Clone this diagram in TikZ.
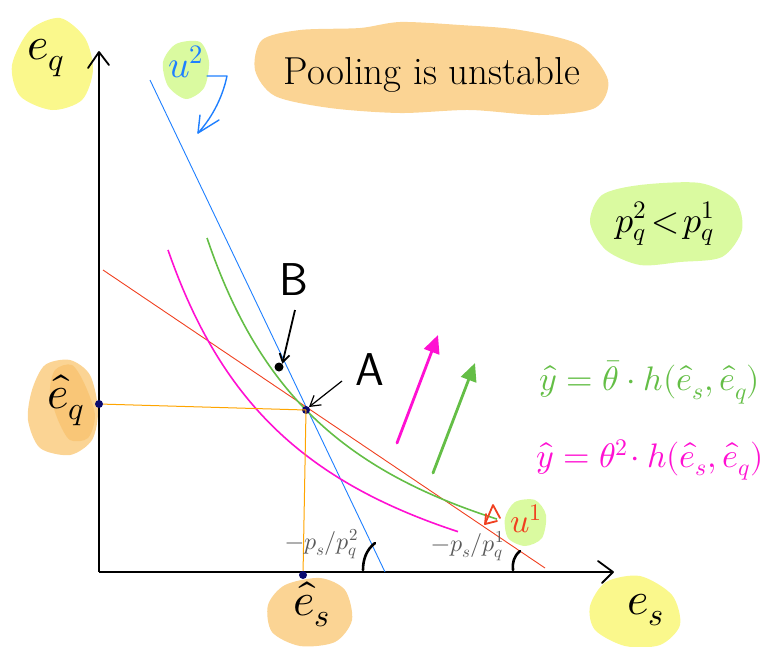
\documentclass[tikz,border=0pt]{standalone}
\usepackage{unicode-math}
\setmathfont{Latin Modern Math}
\usetikzlibrary{arrows.meta}
\definecolor{blobyellow}{RGB}{250,248,140}
\definecolor{bloborange}{RGB}{251,212,148}
\definecolor{bloborangedark}{RGB}{248,190,100}
\definecolor{blobgreen}{RGB}{218,250,160}
\definecolor{lineblue}{RGB}{30,127,255}
\definecolor{linered}{RGB}{240,64,32}
\definecolor{linegreen}{RGB}{100,190,70}
\definecolor{linemagenta}{RGB}{255,16,210}
\definecolor{lineorange}{RGB}{255,165,0}
\definecolor{dotblue}{RGB}{10,10,110}
\definecolor{labelgray}{RGB}{90,90,90}
\tikzset{
  axis/.style={line width=1.2pt, black},
  chev/.style={line width=1.8pt, black, line cap=round, line join=round},
  big/.style={font=\fontsize{46}{50}\selectfont},
  mid/.style={font=\fontsize{34}{38}\selectfont},
  small/.style={font=\fontsize{24}{26}\selectfont, text=labelgray},
  dotpt/.style={circle, fill=dotblue, inner sep=0pt, minimum size=8pt},
  thin/.style={line width=0.9pt},
  fatarrow/.style={line width=2.8pt, line cap=round},
}
\begin{document}
\begin{tikzpicture}[x=1pt,y=-1pt]
\useasboundingbox (0,0) rectangle (766,646);
% blobs
\fill[blobyellow] plot[smooth cycle] coordinates {(30,30) (60,18) (85,38) (93,70) (82,100) (52,110) (20,96) (12,65)};
\fill[blobgreen] plot[smooth cycle] coordinates {(176,44) (200,42) (209,62) (204,88) (186,99) (168,86) (163,62)};
\fill[bloborange] plot[smooth cycle] coordinates {(262,40) (300,30) (360,28) (400,22) (460,25) (520,30) (580,45) (608,80) (595,108) (540,115) (470,110) (400,113) (330,108) (275,96) (255,70)};
\fill[blobgreen] plot[smooth cycle] coordinates {(602,195) (640,185) (700,183) (735,200) (742,230) (722,257) (680,262) (640,265) (606,250) (590,222)};
\fill[bloborange] plot[smooth cycle] coordinates {(45,365) (70,360) (90,375) (98,410) (92,440) (70,455) (40,448) (28,420) (32,390)};
\fill[bloborangedark, opacity=0.6] plot[smooth cycle] coordinates {(55,370) (72,365) (85,385) (95,415) (88,438) (70,440) (58,420) (50,392)};
\fill[bloborange] plot[smooth cycle] coordinates {(285,585) (320,578) (345,590) (352,620) (335,642) (300,646) (272,632) (268,605)};
\fill[blobyellow] plot[smooth cycle] coordinates {(606,582) (640,576) (672,595) (680,625) (660,645) (625,646) (595,630) (590,606)};
\fill[blobgreen] plot[smooth cycle] coordinates {(515,502) (535,500) (546,515) (542,538) (525,546) (508,538) (505,518)};
% axes
\coordinate (O) at (99,572);
\coordinate (ytip) at (99,52);
\coordinate (xtip) at (613,572);
\draw[axis] (O) -- (ytip);
\draw[axis] (O) -- (xtip);
\draw[chev] (88,68) -- (ytip) -- (109,65);
\draw[chev] (598,561) -- (xtip) -- (602,583);
% budget lines
\coordinate (b1) at (150,80); \coordinate (b2) at (385,572);
\draw[lineblue, thin] (b1) -- (b2);
\coordinate (r1) at (103,270); \coordinate (r2) at (545,568);
\draw[linered, thin] (r1) -- (r2);
% iso-profit curves
\draw[linegreen, line width=1.6pt] plot[domain=207:497, samples=80, variable=\x] ({\x},{656.7-594.56/((\x-65)/100)});
\draw[linemagenta, line width=1.6pt] plot[domain=168:458, samples=80, variable=\x] ({\x},{675.4-629.6/((\x-20)/100)});
% A point and orange guides
\node[dotpt] (A) at (306,410) {};
\node[dotpt] (eqd) at (99,404) {};
\node[dotpt] (esd) at (303,575) {};
\draw[lineorange, line width=1pt] (eqd) -- (A.center);
\draw[lineorange, line width=1pt] (A.center) -- (esd);
\node[circle, fill=black, inner sep=0pt, minimum size=9pt] (B) at (279,367) {};
% labels
\node[big] (eqlab) at (46,58) {$e_q$};
\node[font=\fontsize{38}{40}\selectfont, text=lineblue] (u2) at (186,62) {$u^2$};
\coordinate (u2s) at (207,76);
\coordinate (u2e) at (198,133);
\draw[lineblue, line width=1.4pt, line cap=round, line join=round] (u2s) -- (227,76) .. controls (222,100) and (210,120) .. (u2e);
\draw[lineblue, line width=1.4pt, line cap=round, line join=round] (200,115) -- (u2e) -- (219,120);
\node[font=\fontsize{39}{42}\selectfont] (title) at (432,75) {Pooling is unstable};
\node[font=\fontsize{36}{40}\selectfont] (pq) at (665,224) {$p_q^2\!<\!p_q^1$};
\node[mid, text=linegreen] (eqg) at (650,382) {$\hat{y}=\bar{\theta}\cdot h(\hat{e}_s,\hat{e}_q)$};
\node[mid, text=linemagenta] (eqm) at (650,460) {$\hat{y}=\theta^2\!\cdot h(\hat{e}_s,\hat{e}_q)$};
\node[big] (Blab) at (294,280) {$\mathsf{B}$};
\node[big] (Alab) at (370,370) {$\mathsf{A}$};
\draw[black, line width=1.8pt, -{Straight Barb[length=8pt,width=10pt]}] (295,310) -- (B.north east);
\draw[black, line width=1.2pt, -{Straight Barb[length=10pt,width=12pt]}] (342,381) -- (A.north east);
\node[big] (hatq) at (66,400) {$\hat{e}_q$};
\node[big] (hats) at (312,604) {$\hat{e}_s$};
\node[big] (es) at (646,610) {$e_s$};
\node[font=\fontsize{34}{36}\selectfont, text=linered] (u1) at (526,519) {$u^1$};
\coordinate (u1e) at (485,524);
\draw[linered, line width=1.8pt, line cap=round, line join=round] (500,518) -- (493,505) -- (u1e);
\draw[linered, line width=1.8pt, line cap=round, line join=round] (486,514) -- (u1e) -- (497,521);
\node[small] (s2) at (322,544) {$-p_s/p_q^2$};
\node[small] (s1) at (468,546) {$-p_s/p_q^1$};
\draw[black, line width=2.6pt, line cap=round] (375,543) .. controls (366,550) and (363,560) .. (363,570);
\draw[black, line width=2.6pt, line cap=round] (520,551) .. controls (514,556) and (512,563) .. (513,570);
% shift arrows
\coordinate (m1) at (397,443); \coordinate (m2) at (438,335);
\draw[linemagenta, fatarrow, -{Triangle[length=18pt,width=16pt]}] (m1) -- (m2);
\coordinate (g1) at (433,473); \coordinate (g2) at (475,363);
\draw[linegreen, fatarrow, -{Triangle[length=18pt,width=16pt]}] (g1) -- (g2);
\end{tikzpicture}
\end{document}
